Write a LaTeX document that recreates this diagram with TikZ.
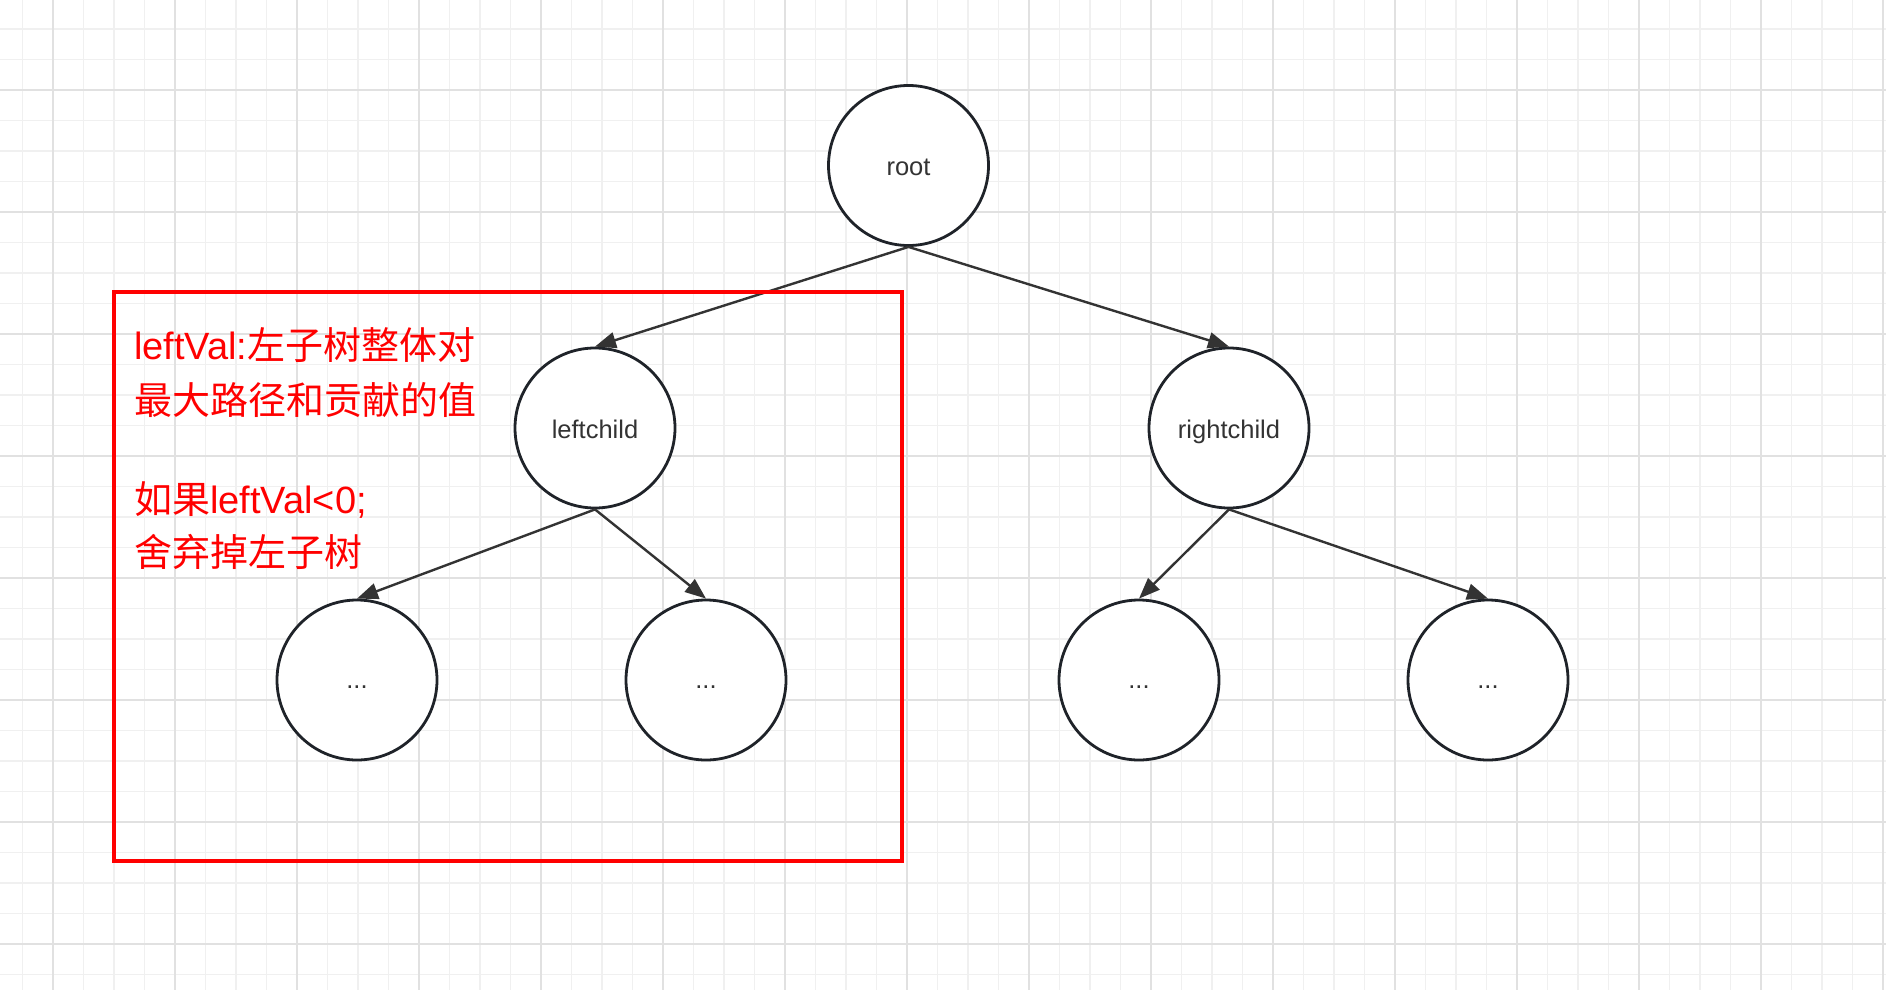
\documentclass[tikz,border=0pt]{standalone}
\usepackage{fontspec}
\setmainfont{Liberation Sans}
\newfontfamily\cjk{Noto Sans CJK SC}
\newfontfamily\lat{Liberation Sans}
\usetikzlibrary{arrows.meta}
\definecolor{gridminor}{HTML}{F0F0F0}
\definecolor{gridmajor}{HTML}{E1E1E1}
\definecolor{nodeborder}{HTML}{1F2329}
\definecolor{edgecol}{HTML}{333333}
\definecolor{txt}{HTML}{333333}
\definecolor{redc}{HTML}{FF0000}
\tikzset{
  minorline/.style={draw=gridminor, line width=1.2pt},
  majorline/.style={draw=gridmajor, line width=1.6pt},
  tnode/.style={circle, draw=nodeborder, line width=2.8pt, fill=white,
    minimum size=160pt, inner sep=0pt, text=txt, text height=20.5pt, text depth=0pt,
    font=\fontsize{25.5}{30}\selectfont},
  dotsnode/.style={tnode, text height=16pt},
  edge/.style={draw=edgecol, line width=2.4pt, -{Triangle[length=21pt,width=16pt]}},
  redbox/.style={draw=redc, line width=3.6pt},
  redtext/.style={anchor=base west, inner sep=0pt, text=redc,
    font=\cjk\fontsize{38}{45}\selectfont}
}
\begin{document}
\begin{tikzpicture}[x=1pt,y=-1pt]
\useasboundingbox (0,0) rectangle (1886,990);
\fill[white] (0,0) rectangle (1886,990);
\begin{scope}
\clip (0,0) rectangle (1886,990);
\foreach \i in {0,...,61} \draw[minorline] ({22.5+30.5*\i},0) -- ++(0,990);
\foreach \i in {0,...,31} \draw[minorline] (0,{29+30.5*\i}) -- ++(1886,0);
\foreach \i in {0,...,15} \draw[majorline] ({53+122*\i},0) -- ++(0,990);
\foreach \i in {0,...,7} \draw[majorline] (0,{90+122*\i}) -- ++(1886,0);
\end{scope}

\node[tnode] (root) at (908.5,165.5) {root};
\node[tnode] (lc) at (595,428) {leftchild};
\node[tnode] (rc) at (1229,428) {rightchild};
\node[dotsnode] (ll) at (357,680) {...};
\node[dotsnode] (lr) at (706,680) {...};
\node[dotsnode] (rl) at (1139,680) {...};
\node[dotsnode] (rr) at (1488,680) {...};

\draw[edge] (root.south) -- (lc.north);
\draw[edge] (root.south) -- (rc.north);
\draw[edge] (lc.south) -- (ll.north);
\draw[edge] (lc.south) -- (lr.north);
\draw[edge] (rc.south) -- (rl.north);
\draw[edge] (rc.south) -- (rr.north);

\draw[redbox] (114,292) rectangle (902,861);
\node[redtext] (t1) at (134,359) {{\lat leftVal:}左子树整体对};
\node[redtext] (t2) at (134,414) {最大路径和贡献的值};
\node[redtext] (t3) at (134,513) {如果{\lat leftVal<0;}};
\node[redtext] (t4) at (134,566) {舍弃掉左子树};
\end{tikzpicture}
\end{document}
